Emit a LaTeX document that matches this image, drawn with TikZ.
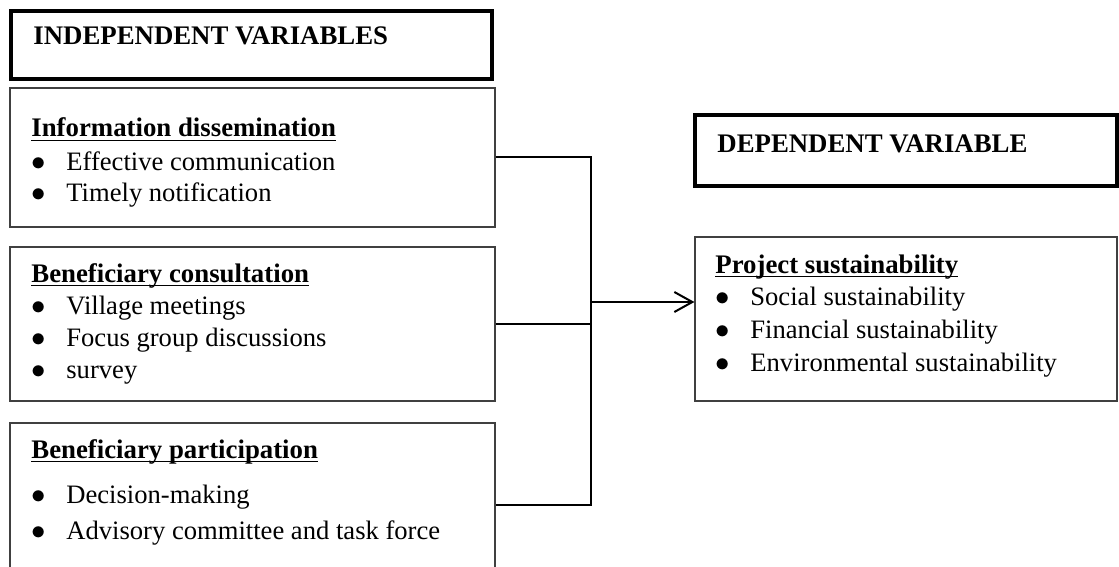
\documentclass[tikz,border=0pt]{standalone}
\usepackage{fontspec}
\setmainfont{Liberation Serif}
\usetikzlibrary{arrows.meta, fit, positioning}
\newsavebox{\hdbox}
\newcommand{\hdline}[1]{\sbox{\hdbox}{#1}\rlap{\rule[-2.2pt]{\wd\hdbox}{0.9pt}}\usebox{\hdbox}}
\tikzstyle{varbox}    = [draw=black!75, line width=0.6pt, inner sep=0pt]
\tikzstyle{titlebox}  = [draw, line width=2pt, inner sep=0pt]
\tikzstyle{txt}       = [anchor=base west, inner sep=0pt, font=\fontsize{13.3}{15}\selectfont]
\tikzstyle{head}      = [txt, font=\fontsize{13.4}{15}\selectfont\bfseries]
\tikzstyle{link}      = [line width=1pt]
\tikzstyle{arrow}     = [link, -{Straight Barb[length=9pt,width=10pt]}]
\newcommand{\bul}{\makebox[17.5pt][l]{$\bullet$}}

\begin{document}
\begin{tikzpicture}[
        x=0.5pt,
        y=-0.5pt
    ]
        \useasboundingbox (0,0) rectangle (1119,567);
        \clip (0,0) rectangle (1119,567);

        % Independent variables
        \node[titlebox, fit={(11,11) (492,79)}] (ind) {};
        \node[head] (indtxt) at (33,45) {INDEPENDENT VARIABLES};

        \node[varbox, fit={(10,88) (495,227)}] (info) {};
        \node[head] (infohd) at (31,137) {\hdline{Information dissemination}};
        \node[txt] (info1) at (31,170) {\bul Effective communication};
        \node[txt] (info2) at (31,201) {\bul Timely notification};

        \node[varbox, fit={(10,247) (495,401)}] (cons) {};
        \node[head] (conshd) at (31,282) {\hdline{Beneficiary consultation}};
        \node[txt] (cons1) at (31,314) {\bul Village meetings};
        \node[txt] (cons2) at (31,346) {\bul Focus group discussions};
        \node[txt] (cons3) at (31,378) {\bul survey};

        \node[varbox, fit={(10,423) (495,587)}] (part) {};
        \node[head] (parthd) at (31,458) {\hdline{Beneficiary participation}};
        \node[txt] (part1) at (31,503) {\bul Decision-making};
        \node[txt] (part2) at (31,539) {\bul Advisory committee and task force};

        % Dependent variable
        \node[titlebox, fit={(695,115) (1117,186)}] (dep) {};
        \node[head] (deptxt) at (717,153) {DEPENDENT VARIABLE};

        \node[varbox, fit={(695,237) (1117,401)}] (proj) {};
        \node[head] (projhd) at (715,273) {\hdline{Project sustainability}};
        \node[txt] (proj1) at (715,305) {\bul Social sustainability};
        \node[txt] (proj2) at (715,338) {\bul Financial sustainability};
        \node[txt] (proj3) at (715,371) {\bul Environmental sustainability};

        % Connectors
        \coordinate (bus) at (591,0);
        \coordinate (split) at (591,302);
        \draw[link] (info.east) -- (info.east -| bus) -- (part.east -| bus) -- (part.east);
        \draw[link] (cons.east) -- (cons.east -| bus);
        \draw[arrow] (split) -- (split -| proj.west);

    \end{tikzpicture}
\end{document}
